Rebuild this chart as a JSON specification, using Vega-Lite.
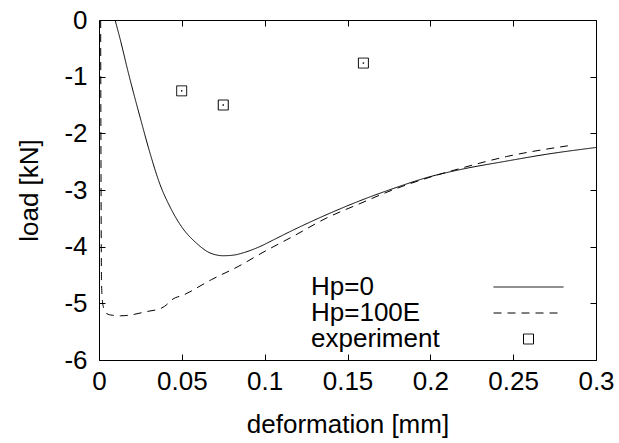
{
  "$schema": "https://vega.github.io/schema/vega-lite/v6.json",
  "width": 497,
  "height": 340,
  "autosize": {"type": "none"},
  "padding": {"left": 99, "top": 20, "right": 23, "bottom": 83},
  "background": "white",
  "config": {
    "view": {"stroke": "black", "strokeWidth": 1},
    "font": "Liberation Sans",
    "axis": {
      "grid": false,
      "domain": false,
      "tickColor": "black",
      "tickSize": 6,
      "offset": -6,
      "labelFlush": false,
      "labelOverlap": false,
      "labelFontSize": 26,
      "labelColor": "black",
      "labelFont": "Liberation Sans",
      "titleFontSize": 26,
      "titleFontWeight": "normal",
      "titleColor": "black",
      "titleFont": "Liberation Sans"
    }
  },
  "datasets": {
    "curves": [
      {"series": "Hp=0", "x": 0.0097, "y": 0},
      {"series": "Hp=0", "x": 0.0127, "y": -0.33},
      {"series": "Hp=0", "x": 0.0177, "y": -0.93},
      {"series": "Hp=0", "x": 0.0253, "y": -1.77},
      {"series": "Hp=0", "x": 0.0308, "y": -2.35},
      {"series": "Hp=0", "x": 0.0368, "y": -2.9},
      {"series": "Hp=0", "x": 0.0429, "y": -3.3},
      {"series": "Hp=0", "x": 0.0499, "y": -3.65},
      {"series": "Hp=0", "x": 0.0589, "y": -3.94},
      {"series": "Hp=0", "x": 0.067, "y": -4.11},
      {"series": "Hp=0", "x": 0.075, "y": -4.16},
      {"series": "Hp=0", "x": 0.081, "y": -4.15},
      {"series": "Hp=0", "x": 0.088, "y": -4.1},
      {"series": "Hp=0", "x": 0.097, "y": -4.0},
      {"series": "Hp=0", "x": 0.106, "y": -3.87},
      {"series": "Hp=0", "x": 0.117, "y": -3.71},
      {"series": "Hp=0", "x": 0.137, "y": -3.44},
      {"series": "Hp=0", "x": 0.1575, "y": -3.19},
      {"series": "Hp=0", "x": 0.178, "y": -2.97},
      {"series": "Hp=0", "x": 0.198, "y": -2.78},
      {"series": "Hp=0", "x": 0.218, "y": -2.64},
      {"series": "Hp=0", "x": 0.246, "y": -2.49},
      {"series": "Hp=0", "x": 0.27, "y": -2.37},
      {"series": "Hp=0", "x": 0.3, "y": -2.25},
      {"series": "Hp=100E", "x": 0.001, "y": 0},
      {"series": "Hp=100E", "x": 0.0012, "y": -2.5},
      {"series": "Hp=100E", "x": 0.0015, "y": -4.6},
      {"series": "Hp=100E", "x": 0.002, "y": -4.94},
      {"series": "Hp=100E", "x": 0.003, "y": -5.1},
      {"series": "Hp=100E", "x": 0.0046, "y": -5.18},
      {"series": "Hp=100E", "x": 0.008, "y": -5.21},
      {"series": "Hp=100E", "x": 0.013, "y": -5.22},
      {"series": "Hp=100E", "x": 0.018, "y": -5.21},
      {"series": "Hp=100E", "x": 0.028, "y": -5.15},
      {"series": "Hp=100E", "x": 0.038, "y": -5.08},
      {"series": "Hp=100E", "x": 0.041, "y": -5.02},
      {"series": "Hp=100E", "x": 0.043, "y": -4.96},
      {"series": "Hp=100E", "x": 0.052, "y": -4.84},
      {"series": "Hp=100E", "x": 0.068, "y": -4.58},
      {"series": "Hp=100E", "x": 0.084, "y": -4.35},
      {"series": "Hp=100E", "x": 0.099, "y": -4.1},
      {"series": "Hp=100E", "x": 0.117, "y": -3.82},
      {"series": "Hp=100E", "x": 0.137, "y": -3.5},
      {"series": "Hp=100E", "x": 0.1575, "y": -3.24},
      {"series": "Hp=100E", "x": 0.178, "y": -2.99},
      {"series": "Hp=100E", "x": 0.198, "y": -2.79},
      {"series": "Hp=100E", "x": 0.218, "y": -2.62},
      {"series": "Hp=100E", "x": 0.246, "y": -2.41},
      {"series": "Hp=100E", "x": 0.283, "y": -2.22}
    ],
    "experiment": [
      {"series": "experiment", "x": 0.0499, "y": -1.25},
      {"series": "experiment", "x": 0.075, "y": -1.5},
      {"series": "experiment", "x": 0.1596, "y": -0.76}
    ]
  },
  "layer": [
    {
      "data": {"name": "curves"},
      "mark": {"type": "line", "color": "black", "strokeWidth": 1, "clip": true, "interpolate": "monotone"},
      "encoding": {
        "x": {
          "field": "x", "type": "quantitative",
          "scale": {"domain": [0, 0.3], "nice": false},
          "axis": {"orient": "bottom", "values": [0, 0.05, 0.1, 0.15, 0.2, 0.25, 0.3], "labelExpr": "'' + datum.value", "title": "deformation [mm]", "labelPadding": 8, "titlePadding": 17}
        },
        "y": {
          "field": "y", "type": "quantitative",
          "scale": {"domain": [-6, 0], "nice": false, "zero": false},
          "axis": {"orient": "left", "values": [-6, -5, -4, -3, -2, -1, 0], "labelExpr": "'' + datum.value", "title": "load [kN]", "labelPadding": 12, "titlePadding": 21}
        },
        "strokeDash": {
          "field": "series", "type": "nominal",
          "scale": {"domain": ["Hp=0", "Hp=100E", "experiment"], "range": [[1, 0], [8, 6], [1, 0]]},
          "legend": {
            "orient": "none",
            "legendX": 416.5,
            "legendY": 254,
            "title": null,
            "padding": 0,
            "labelFontSize": 26,
            "labelFont": "Liberation Sans",
            "labelColor": "black",
            "labelOffset": -230.5,
            "rowPadding": 0,
            "symbolType": "stroke",
            "symbolSize": 100,
            "symbolStrokeWidth": 1,
            "symbolStrokeColor": "black",
            "symbolFillColor": "transparent",
            "encode": {
              "symbols": {
                "update": {
                  "shape": {"signal": "datum.value === 'experiment' ? 'square' : 'M-7,0L7,0'"},
                  "stroke": {"value": "black"},
                  "fill": {"value": "transparent"}
                }
              }
            }
          }
        }
      }
    },
    {
      "data": {"name": "experiment"},
      "mark": {"type": "point", "shape": "square", "size": 100, "filled": false, "color": "black", "strokeWidth": 1, "opacity": 1},
      "encoding": {
        "x": {"field": "x", "type": "quantitative", "axis": {"orient": "top", "labels": false, "title": null, "values": [0, 0.05, 0.1, 0.15, 0.2, 0.25, 0.3]}},
        "y": {"field": "y", "type": "quantitative", "axis": {"orient": "right", "labels": false, "title": null, "values": [-6, -5, -4, -3, -2, -1, 0]}},
        "strokeDash": {"field": "series", "type": "nominal"}
      }
    },
    {
      "data": {"name": "experiment"},
      "mark": {"type": "point", "shape": "square", "size": 2, "filled": true, "color": "black", "opacity": 1},
      "encoding": {
        "x": {"field": "x", "type": "quantitative", "axis": null},
        "y": {"field": "y", "type": "quantitative", "axis": null}
      }
    }
  ],
  "resolve": {"axis": {"x": "independent", "y": "independent"}}
}
